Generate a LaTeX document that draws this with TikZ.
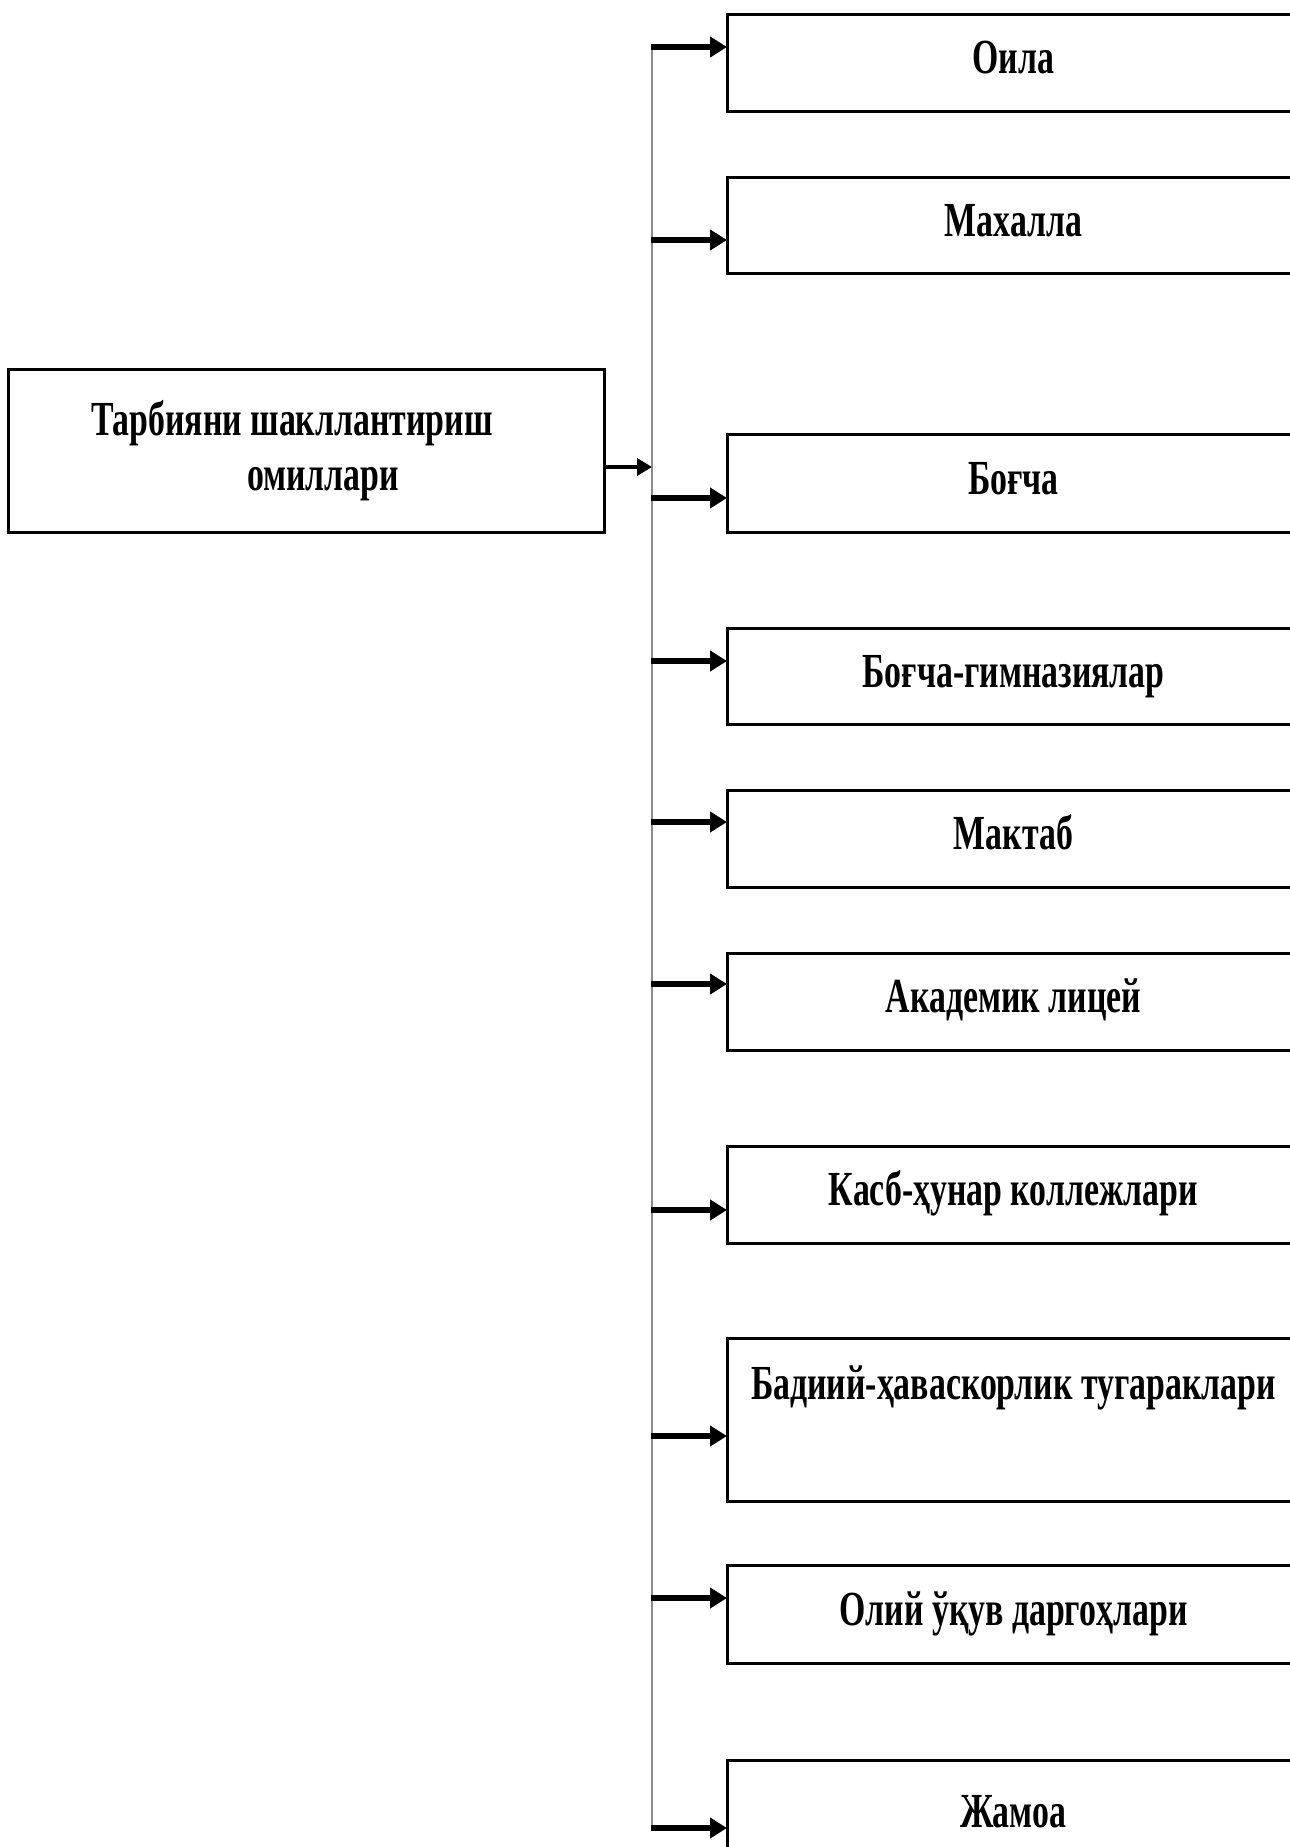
\documentclass[tikz,border=0pt]{standalone}
\usepackage{fontspec}
\setmainfont{Liberation Serif}
\newfontfamily\cf[FakeStretch=0.69]{Liberation Serif}
\usetikzlibrary{arrows.meta}
\begin{document}
\begin{tikzpicture}[x=1pt,y=-1pt,
  txt/.style={font={\cf\bfseries\fontsize{49pt}{55pt}\selectfont}},
  box/.style={txt, draw=black, line width=3pt, inner sep=0pt, outer sep=0pt,
    anchor=north west, minimum width=573pt, text height=31.7pt, text depth=9.6pt},
  mainbox/.style={txt, draw=black, line width=3pt, inner sep=0pt, outer sep=0pt,
    anchor=north west, minimum width=596pt, minimum height=163pt,
    text width=430pt, align=left},
  arr/.style={line width=5.5pt, -{Triangle[length=17pt,width=20pt]}},
  marr/.style={line width=4pt, -{Triangle[length=15pt,width=17pt]}},
  trunk/.style={draw=black!45, line width=2.8pt}]
\useasboundingbox (0,0) rectangle (1290,1847);
\fill[white] (0,0) rectangle (1290,1847);
\clip (0,0) rectangle (1290,1847);

\node[mainbox] (main) at (8,369) {\spaceskip=0pt Тарбияни шакллантириш\\\hspace*{156pt}омиллари};

\node[box, minimum height=97pt] (b1) at (727,14) {Оила};
\node[box, minimum height=96pt] (b2) at (727,177) {Махалла};
\node[box, minimum height=98pt] (b3) at (727,434) {Боғча};
\node[box, minimum height=96pt] (b4) at (727,628) {Боғча-гимназиялар};
\node[box, minimum height=97pt] (b5) at (727,790) {Мактаб};
\node[box, minimum height=97pt] (b6) at (727,953) {Академик лицей};
\node[box, minimum height=97pt] (b7) at (727,1146) {Касб-ҳунар коллежлари};
\node[box, minimum height=163pt, text depth=71pt] (b8) at (727,1338) {Бадиий-ҳаваскорлик тугараклари};
\node[box, minimum height=98pt] (b9) at (727,1565) {Олий ўқув даргоҳлари};
\node[box, minimum height=110pt] (b10) at (727,1760) {\phantom{Ж}};
\node[txt, inner sep=0pt] (t10) at (1013,1812) {Жамоа};

\coordinate (s0) at (652,467);
\coordinate (s1) at (652,47);
\coordinate (s2) at (652,240);
\coordinate (s3) at (652,498);
\coordinate (s4) at (652,661);
\coordinate (s5) at (652,822);
\coordinate (s6) at (652,984);
\coordinate (s7) at (652,1210);
\coordinate (s8) at (652,1436);
\coordinate (s9) at (652,1598);
\coordinate (s10) at (652,1828);

\draw[trunk] (s1) -- (s10);
\draw[marr] (main.east |- s0) -- (s0);
\foreach \i in {1,...,10} {
  \draw[arr] ([xshift=-1pt]s\i) -- (s\i -| b\i.west);
}
\end{tikzpicture}
\end{document}
